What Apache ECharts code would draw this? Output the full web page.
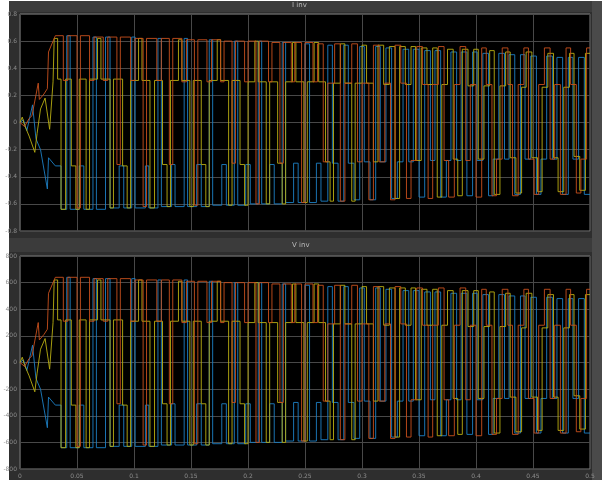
<!DOCTYPE html>
<html>
<head>
<meta charset="utf-8">
<title>I inv / V inv</title>
<script src="https://cdn.jsdelivr.net/npm/echarts@6/dist/echarts.min.js"></script>
<style>
  html, body { margin: 0; padding: 0; background: #fff; }
  #main { width: 602px; height: 480px; }
</style>
</head>
<body>
<div id="main"></div>
<script type="text/javascript">
// tick labels
var xTicks = [0, 0.05, 0.1, 0.15, 0.2, 0.25, 0.3, 0.35, 0.4, 0.45, 0.5];

// start-up transient, read point by point (time s, value)
var startRedI = [[0,0],[0.004,-0.03],[0.008,0.03],[0.0105,0.05],[0.016,0.29],[0.017,0.17],[0.021,0.21],[0.024,0.25],[0.025,0.52],[0.031,0.64]];
var startYelI = [[0,0],[0.002,0.04],[0.004,-0.02],[0.008,-0.10],[0.013,-0.22],[0.015,-0.08],[0.018,0.10],[0.022,0.18],[0.026,-0.05],[0.029,0.30]];
var startBluI = [[0,0],[0.003,0.02],[0.006,-0.06],[0.011,0.13],[0.014,-0.12],[0.018,-0.20],[0.024,-0.49],[0.025,-0.26],[0.031,-0.32]];
var startRedV = [[0,0],[0.004,-30],[0.008,30],[0.0105,50],[0.016,300],[0.017,170],[0.021,210],[0.024,250],[0.025,520],[0.031,640]];
var startYelV = [[0,0],[0.002,40],[0.004,-20],[0.008,-100],[0.013,-220],[0.015,-80],[0.018,100],[0.022,180],[0.026,-50],[0.029,300]];
var startBluV = [[0,0],[0.003,20],[0.006,-60],[0.011,130],[0.014,-120],[0.018,-200],[0.024,-490],[0.025,-260],[0.031,-320]];

// switching instants (s) and level held after each switch
var tRed = [0.031,0.038,0.042,0.050,0.053,0.061,0.065,0.073,0.077,0.085,
  0.088,0.097,0.101,0.108,0.111,0.120,0.124,0.131,0.134,0.142,
  0.146,0.153,0.156,0.164,0.168,0.176,0.179,0.186,0.189,0.197,
  0.200,0.207,0.210,0.218,0.221,0.228,0.231,0.238,0.241,0.247,
  0.250,0.257,0.261,0.266,0.270,0.276,0.281,0.285,0.291,0.296,
  0.300,0.306,0.310,0.315,0.320,0.325,0.329,0.334,0.339,0.343,
  0.348,0.353,0.358,0.362,0.367,0.372,0.376,0.381,0.386,0.391,
  0.395,0.400,0.405,0.409,0.414,0.418,0.423,0.428,0.432,0.437,
  0.442,0.446,0.451,0.455,0.460,0.465,0.469,0.474,0.479,0.483,
  0.488,0.492,0.497];
var iRed = [0.64,0.31,0.64,-0.63,0.64,0.31,0.63,0.31,0.63,-0.31,
  0.63,0.31,0.62,-0.62,0.62,0.31,0.62,-0.31,0.62,0.30,
  0.61,-0.61,0.61,0.30,0.61,0.30,0.60,-0.30,0.60,0.30,
  0.60,-0.60,0.60,0.30,0.59,-0.30,0.59,0.30,0.59,-0.59,
  0.59,0.30,0.58,-0.29,0.29,0.58,-0.58,0.29,0.58,-0.29,
  0.29,-0.57,0.57,-0.29,0.29,-0.57,0.57,0.29,-0.56,-0.28,
  0.56,0.28,-0.56,0.28,0.56,-0.28,-0.55,0.28,0.56,-0.28,
  0.28,-0.55,0.55,0.28,-0.54,-0.27,0.55,0.28,-0.54,0.28,
  0.55,-0.27,-0.53,0.28,0.55,-0.27,0.28,-0.53,0.55,0.28,
  -0.52,-0.27,0.55];
var vRed = [640,310,640,-630,640,310,630,310,630,-310,
  630,310,620,-620,620,310,620,-310,620,300,
  610,-610,610,300,610,300,600,-300,600,300,
  600,-600,600,300,590,-300,590,300,590,-590,
  590,300,580,-290,290,580,-580,290,580,-290,
  290,-570,570,-290,290,-570,570,290,-560,-280,
  560,280,-560,280,560,-280,-550,280,560,-280,
  280,-550,550,280,-540,-270,550,280,-540,280,
  550,-270,-530,280,550,-270,280,-530,550,280,
  -520,-270,550];

var tYel = [0.030,0.033,0.036,0.040,0.045,0.049,0.052,0.058,0.061,0.068,
  0.071,0.079,0.082,0.090,0.094,0.097,0.104,0.107,0.114,0.118,
  0.125,0.129,0.132,0.139,0.142,0.149,0.152,0.159,0.163,0.166,
  0.173,0.176,0.183,0.186,0.193,0.197,0.200,0.206,0.209,0.216,
  0.219,0.226,0.230,0.233,0.239,0.242,0.249,0.252,0.258,0.262,
  0.268,0.272,0.275,0.281,0.285,0.291,0.294,0.300,0.304,0.310,
  0.314,0.319,0.324,0.329,0.333,0.338,0.343,0.347,0.352,0.357,
  0.362,0.366,0.370,0.375,0.380,0.384,0.388,0.393,0.398,0.402,
  0.407,0.412,0.416,0.421,0.426,0.430,0.435,0.440,0.444,0.449,
  0.454,0.458,0.463,0.468,0.472,0.477,0.482,0.486,0.491,0.496];
var iYel = [0.62,0.32,-0.64,0.32,-0.32,-0.64,0.32,-0.64,0.32,0.62,
  0.32,-0.63,0.32,-0.32,-0.63,0.31,0.62,0.31,-0.63,0.31,
  -0.31,-0.62,0.31,0.61,0.31,-0.62,0.31,-0.31,-0.62,0.31,
  0.61,0.31,-0.61,0.31,-0.31,-0.61,0.30,0.60,0.30,-0.60,
  0.30,-0.30,-0.60,0.30,0.59,0.30,-0.59,0.30,0.59,0.30,
  -0.29,-0.58,0.29,0.58,0.29,-0.58,0.29,0.57,0.29,-0.29,
  0.57,0.28,0.56,-0.56,0.56,0.28,0.56,-0.28,0.55,0.28,
  0.55,-0.55,0.28,0.54,-0.27,-0.54,0.54,0.27,0.54,-0.27,
  0.27,0.53,-0.53,0.27,0.52,-0.26,-0.52,0.26,0.52,-0.26,
  -0.51,0.26,0.51,-0.26,-0.51,0.26,0.51,-0.25,-0.50,0.51];
var vYel = [620,320,-640,320,-320,-640,320,-640,320,620,
  320,-630,320,-320,-630,310,620,310,-630,310,
  -310,-620,310,610,310,-620,310,-310,-620,310,
  610,310,-610,310,-310,-610,300,600,300,-600,
  300,-300,-600,300,590,300,-590,300,590,300,
  -290,-580,290,580,290,-580,290,570,290,-290,
  570,280,560,-560,560,280,560,-280,550,280,
  550,-550,280,540,-270,-540,540,270,540,-270,
  270,530,-530,270,520,-260,-520,260,520,-260,
  -510,260,510,-260,-510,260,510,-250,-500,510];

var tBlu = [0.031,0.036,0.041,0.044,0.052,0.056,0.064,0.067,0.075,0.079,
  0.087,0.091,0.098,0.101,0.110,0.113,0.121,0.124,0.133,0.136,
  0.144,0.147,0.155,0.159,0.166,0.169,0.177,0.181,0.188,0.191,
  0.198,0.202,0.209,0.212,0.219,0.223,0.230,0.233,0.240,0.244,
  0.250,0.254,0.260,0.264,0.270,0.274,0.279,0.284,0.288,0.293,
  0.298,0.302,0.307,0.312,0.316,0.321,0.326,0.331,0.336,0.341,
  0.345,0.350,0.355,0.360,0.364,0.369,0.374,0.378,0.383,0.387,
  0.392,0.397,0.401,0.406,0.411,0.415,0.420,0.425,0.429,0.434,
  0.439,0.443,0.448,0.453,0.457,0.462,0.467,0.471,0.476,0.481,
  0.485,0.490,0.495];
var iBlu = [-0.32,-0.64,0.64,-0.64,-0.32,-0.64,0.63,-0.64,0.63,-0.63,
  -0.32,-0.63,0.63,-0.63,-0.32,-0.63,0.62,-0.62,-0.31,-0.62,
  0.62,-0.62,-0.31,-0.62,0.61,-0.61,-0.31,-0.61,0.60,-0.61,
  -0.31,-0.60,0.60,-0.60,-0.31,-0.60,0.59,-0.59,-0.30,-0.59,
  0.58,-0.59,-0.30,-0.58,0.57,-0.30,-0.58,0.57,-0.30,-0.57,
  0.56,-0.29,-0.57,0.56,-0.29,0.55,-0.56,-0.29,0.54,-0.29,
  0.54,-0.55,0.53,-0.28,0.53,-0.55,-0.28,0.52,-0.28,0.52,
  -0.54,0.52,-0.28,0.51,-0.54,-0.27,0.51,-0.27,0.50,-0.53,
  0.50,-0.27,0.49,-0.53,-0.27,0.49,-0.27,0.48,-0.53,0.48,
  -0.27,0.48,-0.53];
var vBlu = [-320,-640,640,-640,-320,-640,630,-640,630,-630,
  -320,-630,630,-630,-320,-630,620,-620,-310,-620,
  620,-620,-310,-620,610,-610,-310,-610,600,-610,
  -310,-600,600,-600,-310,-600,590,-590,-300,-590,
  580,-590,-300,-580,570,-300,-580,570,-300,-570,
  560,-290,-570,560,-290,550,-560,-290,540,-290,
  540,-550,530,-280,530,-550,-280,520,-280,520,
  -540,520,-280,510,-540,-270,510,-270,500,-530,
  500,-270,490,-530,-270,490,-270,480,-530,480,
  -270,480,-530];

// turn switch lists into a held-value polyline
function trace(start, t, v) {
  var pts = start.slice();
  var prev = start[start.length - 1][1];
  var n = Math.min(t.length, v.length);
  for (var i = 0; i < n; i++) {
    pts.push([t[i], prev]);
    pts.push([t[i], v[i]]);
    prev = v[i];
  }
  pts.push([0.5, prev]);
  return pts;
}

var cRed = '#c8501d', cYel = '#b9ae12', cBlu = '#1d80c4';

function wave(name, color, data, idx) {
  return {
    name: name, type: 'line', data: data, xAxisIndex: idx, yAxisIndex: idx,
    showSymbol: false, silent: true,
    lineStyle: { color: color, width: 1, opacity: 0.9 }
  };
}

function xAx(idx, labels) {
  return {
    type: 'value', gridIndex: idx, min: 0, max: 0.5, interval: 0.05,
    axisLine: { show: false }, axisTick: { show: false },
    axisLabel: {
      show: labels, color: '#8c8c8c', fontSize: 6, margin: 4, fontFamily: 'DejaVu Sans',
      formatter: function (v) { return String(+v.toFixed(2)); }
    },
    splitLine: { show: true, lineStyle: { color: '#484848', width: 1 } }
  };
}
function yAx(idx, mn, mx, step) {
  return {
    type: 'value', gridIndex: idx, min: mn, max: mx, interval: step,
    axisLine: { show: false }, axisTick: { show: false },
    axisLabel: { color: '#8c8c8c', fontSize: 6, margin: 3, fontFamily: 'DejaVu Sans' },
    splitLine: { show: true, lineStyle: { color: '#484848', width: 1 } }
  };
}

var myChart = echarts.init(document.getElementById('main'));
myChart.setOption({
  backgroundColor: '#ffffff',
  animation: false,
  graphic: [
    { type: 'rect', z: -10, shape: { x: 9, y: 1, width: 593, height: 479 }, style: { fill: '#2e2e2e' } },
    { type: 'rect', z: -9, shape: { x: 9, y: 1, width: 583, height: 11 }, style: { fill: '#3b3b3b' } },
    { type: 'rect', z: -9, shape: { x: 9, y: 238, width: 583, height: 14 }, style: { fill: '#3b3b3b' } },
    { type: 'rect', z: -9, shape: { x: 592, y: 1, width: 10, height: 479 }, style: { fill: '#4a4a4a' } },
    { type: 'text', left: 292, top: 2, style: { text: 'I inv', fill: '#bdbdbd', font: '7px "DejaVu Sans"' } },
    { type: 'text', left: 292, top: 242, style: { text: 'V inv', fill: '#bdbdbd', font: '7px "DejaVu Sans"' } }
  ],
  grid: [
    { left: 20, top: 14, width: 570, height: 217, show: true, backgroundColor: '#000', borderColor: '#7a7a7a', borderWidth: 1 },
    { left: 20, top: 256, width: 570, height: 213, show: true, backgroundColor: '#000', borderColor: '#7a7a7a', borderWidth: 1 }
  ],
  xAxis: [xAx(0, false), xAx(1, true)],
  yAxis: [yAx(0, -0.8, 0.8, 0.2), yAx(1, -800, 800, 200)],
  series: [
    wave('Ib', cBlu, trace(startBluI, tBlu, iBlu), 0),
    wave('Iy', cYel, trace(startYelI, tYel, iYel), 0),
    wave('Ir', cRed, trace(startRedI, tRed, iRed), 0),
    wave('Vb', cBlu, trace(startBluV, tBlu, vBlu), 1),
    wave('Vy', cYel, trace(startYelV, tYel, vYel), 1),
    wave('Vr', cRed, trace(startRedV, tRed, vRed), 1)
  ]
});
</script>
</body>
</html>
